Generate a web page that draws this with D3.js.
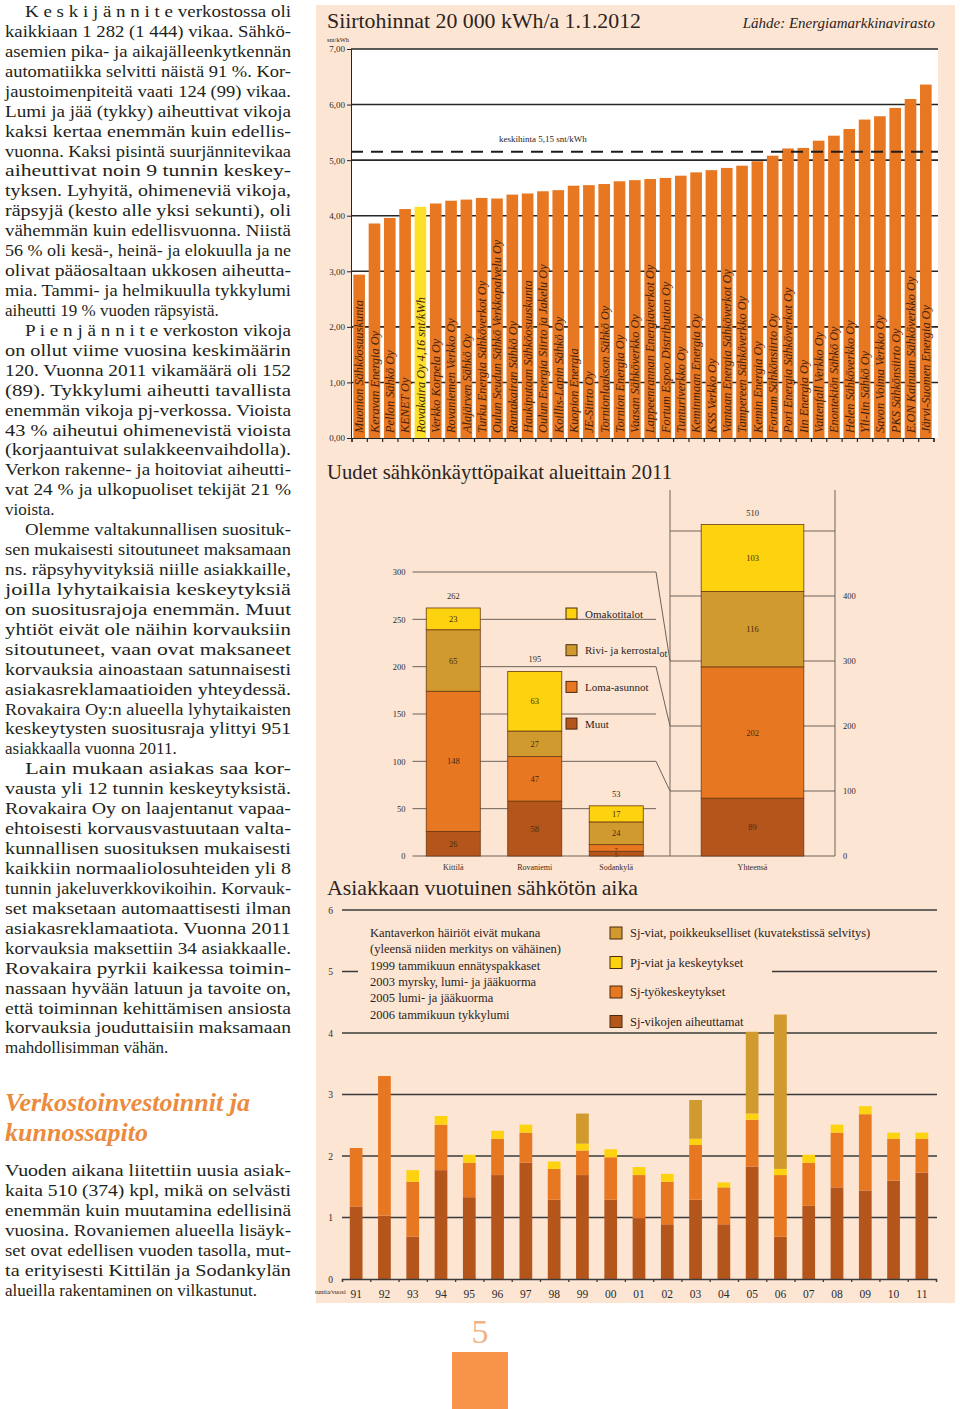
<!DOCTYPE html>
<html lang="fi">
<head>
<meta charset="UTF-8">
<title>Siirtohinnat, liittymät ja keskeytykset</title>
<script src="https://d3js.org/d3.v7.min.js"></script>
<style>
  body { margin: 0; background: #fff; }
  svg { display: block; font-family: "Liberation Serif", "Times New Roman", serif; }
  .ax text { font-family: "Liberation Serif", serif; fill: #2b2b2b; }
</style>
</head>
<body>
<svg id="page" width="960" height="1409"></svg>
<script>
// ---------- data: transfer prices 20 000 kWh/a, 1.1.2012 (snt/kWh) ----------
const companies = [
  "Muonion Sähköosuuskunta", "Keravan Energia Oy", "Pellon Sähkö Oy", "KENET Oy",
  "Rovakaira Oy 4,16 snt/kWh", "Verkko Korpela Oy", "Rovaniemen Verkko Oy", "Alajärven Sähkö Oy",
  "Turku Energia Sähköverkot Oy", "Oulun Seudun Sähkö Verkkopalvelu Oy", "Rantakairan Sähkö Oy",
  "Haukiputaan Sähköosuuskunta", "Oulun Energia Siirto ja Jakelu Oy", "Koillis-Lapin Sähkö Oy",
  "Kuopion Energia", "JE-Siirto Oy", "Tornionlaakson Sähkö Oy", "Tornion Energia Oy",
  "Vaasan Sähköverkko Oy", "Lappeenrannan Energiaverkot Oy", "Fortum Espoo Distribution Oy",
  "Tunturiverkko Oy", "Keminmaan Energia Oy", "KSS Verkko Oy", "Vantaan Energia Sähköverkot Oy",
  "Tampereen Sähköverkko Oy", "Kemin Energia Oy", "Fortum Sähkönsiirto Oy", "Pori Energia Sähköverkot Oy",
  "Iin Energia Oy", "Vattenfall Verkko Oy", "Enontekiön Sähkö Oy", "Helen Sähköverkko Oy",
  "Yli-Iin Sähkö Oy", "Savon Voima Verkko Oy", "PKS Sähkönsiirto Oy", "E.ON Kainuun Sähköverkko Oy",
  "Järvi-Suomen Energia Oy"
];
const prices = [
  2.94, 3.86, 3.96, 4.12, 4.16, 4.22, 4.27, 4.29, 4.32, 4.31, 4.38, 4.40, 4.44, 4.46,
  4.54, 4.55, 4.57, 4.62, 4.64, 4.66, 4.68, 4.72, 4.78, 4.82, 4.86, 4.90, 4.98, 5.08,
  5.21, 5.22, 5.35, 5.44, 5.56, 5.73, 5.79, 5.94, 6.10, 6.36
];
const ownCompany = "Rovakaira Oy 4,16 snt/kWh";
const avgPrice = 5.15;
const priceTicks = [0, 1, 2, 3, 4, 5, 6, 7];

// ---------- data: new connections by area 2011 ----------
const regions = ["Kittilä", "Rovaniemi", "Sodankylä"];
const houseTypes = ["Muut", "Loma-asunnot", "Rivi- ja kerrostalot", "Omakotitalot"];
const muut = [26, 58, 5];
const lomaAsunnot = [148, 47, 7];
const riviJaKerros = [65, 27, 24];
const omakotitalot = [23, 63, 17];
const totalByType = [89, 202, 116, 103];   // Yhteensä, same order as houseTypes
const leftTicks = [0, 50, 100, 150, 200, 250, 300];
const rightTicks = [0, 100, 200, 300, 400];
const rightGrid = [0, 100, 200, 300, 400, 500];

// ---------- data: customer's yearly outage time (h/a) ----------
const years = ["91","92","93","94","95","96","97","98","99","00","01","02","03","04","05","06","07","08","09","10","11"];
const sjFaults      = [1.18, 1.03, 0.69, 1.77, 1.33, 1.69, 1.89, 1.29, 1.69, 1.29, 0.99, 0.89, 1.29, 0.89, 1.83, 0.69, 1.19, 1.49, 1.44, 1.60, 1.73];
const sjWork        = [0.95, 2.27, 0.89, 0.74, 0.56, 0.59, 0.49, 0.50, 0.40, 0.69, 0.70, 0.69, 0.89, 0.60, 0.76, 1.00, 0.70, 0.89, 1.24, 0.68, 0.55];
const pjFaults      = [0.00, 0.00, 0.19, 0.14, 0.13, 0.13, 0.13, 0.12, 0.11, 0.13, 0.13, 0.13, 0.10, 0.08, 0.10, 0.10, 0.13, 0.13, 0.13, 0.10, 0.10];
const sjExceptional = [0, 0, 0, 0, 0, 0, 0, 0, 0.49, 0, 0, 0, 0.63, 0, 1.33, 2.51, 0, 0, 0, 0, 0];
const outageNotes = [
  "Kantaverkon häiriöt eivät mukana",
  "(yleensä niiden merkitys on vähäinen)",
  "1999 tammikuun ennätyspakkaset",
  "2003 myrsky, lumi- ja jääkuorma",
  "2005 lumi- ja jääkuorma",
  "2006 tammikuun tykkylumi"
];
const outageLegend = [
  ["Sj-viat, poikkeukselliset (kuvatekstissä selvitys)", "gold"],
  ["Pj-viat ja keskeytykset", "yellow"],
  ["Sj-työkeskeytykset", "orange"],
  ["Sj-vikojen aiheuttamat", "brown"]
];

// ---------- body text ----------
const bodyParagraphs = [
  ["K e s k i j ä n n i t e verkostossa oli", "kaikkiaan 1 282 (1 444) vikaa. Sähkö-",
   "asemien pika- ja aikajälleenkytkennän", "automatiikka selvitti näistä 91 %. Kor-",
   "jaustoimenpiteitä vaati 124 (99) vikaa.", "Lumi ja jää (tykky) aiheuttivat vikoja",
   "kaksi kertaa enemmän kuin edellis-", "vuonna. Kaksi pisintä suurjännitevikaa",
   "aiheuttivat noin 9 tunnin keskey-", "tyksen. Lyhyitä, ohimeneviä vikoja,",
   "räpsyjä (kesto alle yksi sekunti), oli", "vähemmän kuin edellisvuonna. Niistä",
   "56 % oli kesä-, heinä- ja elokuulla ja ne", "olivat pääosaltaan ukkosen aiheutta-",
   "mia. Tammi- ja helmikuulla tykkylumi", "aiheutti 19 % vuoden räpsyistä."],
  ["P i e n j ä n n i t e verkoston vikoja", "on ollut viime vuosina keskimäärin",
   "120. Vuonna 2011 vikamäärä oli 152", "(89). Tykkylumi aiheutti tavallista",
   "enemmän vikoja pj-verkossa. Vioista", "43 % aiheutui ohimenevistä vioista",
   "(korjaantuivat sulakkeenvaihdolla).", "Verkon rakenne- ja hoitoviat aiheutti-",
   "vat 24 % ja ulkopuoliset tekijät 21 %", "vioista."],
  ["Olemme valtakunnallisen suosituk-", "sen mukaisesti sitoutuneet maksamaan",
   "ns. räpsyhyvityksiä niille asiakkaille,", "joilla lyhytaikaisia keskeytyksiä",
   "on suositusrajoja enemmän. Muut", "yhtiöt eivät ole näihin korvauksiin",
   "sitoutuneet, vaan ovat maksaneet", "korvauksia ainoastaan satunnaisesti",
   "asiakasreklamaatioiden yhteydessä.", "Rovakaira Oy:n alueella lyhytaikaisten",
   "keskeytysten suositusraja ylittyi 951", "asiakkaalla vuonna 2011."],
  ["Lain mukaan asiakas saa kor-", "vausta yli 12 tunnin keskeytyksistä.",
   "Rovakaira Oy on laajentanut vapaa-", "ehtoisesti korvausvastuutaan valta-",
   "kunnallisen suosituksen mukaisesti", "kaikkiin normaaliolosuhteiden yli 8",
   "tunnin jakeluverkkovikoihin. Korvauk-", "set maksetaan automaattisesti ilman",
   "asiakasreklamaatiota. Vuonna 2011", "korvauksia maksettiin 34 asiakkaalle.",
   "Rovakaira pyrkii kaikessa toimin-", "nassaan hyvään latuun ja tavoite on,",
   "että toiminnan kehittämisen ansiosta", "korvauksia jouduttaisiin maksamaan",
   "mahdollisimman vähän."]
];
const headingLines = ["Verkostoinvestoinnit ja", "kunnossapito"];
const investLines = [
  "Vuoden aikana liitettiin uusia asiak-", "kaita 510 (374) kpl, mikä on selvästi",
  "enemmän kuin muutamina edellisinä", "vuosina. Rovaniemen alueella lisäyk-",
  "set ovat edellisen vuoden tasolla, mut-", "ta erityisesti Kittilän ja Sodankylän",
  "alueilla rakentaminen on vilkastunut."
];

const col = { yellow: "#fdd20e", gold: "#d09a2e", orange: "#e87722", brown: "#b4561b" };
const ink = "#2b2420";
const peach = "#fde5d4";

const svg = d3.select("#page");

// ================= left text column =================
const textG = svg.append("g").attr("fill", "#231f20").attr("font-size", 17);
let row = 0;
bodyParagraphs.forEach(par => {
  par.forEach((line, j) => {
    const x = j === 0 ? 25 : 5;
    const t = textG.append("text").attr("x", x).attr("y", 17 + row * 19.93).text(line);
    if (j < par.length - 1) t.attr("textLength", 291 - x).attr("lengthAdjust", "spacingAndGlyphs");
    row++;
  });
});
headingLines.forEach((line, j) => {
  svg.append("text").attr("x", 5).attr("y", 1111 + j * 30)
    .attr("font-size", 26).attr("font-weight", "bold").attr("font-style", "italic")
    .attr("fill", "#eb8b3e").text(line);
});
investLines.forEach((line, j) => {
  const t = textG.append("text").attr("x", 5).attr("y", 1176 + j * 20).text(line);
  if (j < investLines.length - 1) t.attr("textLength", 286).attr("lengthAdjust", "spacingAndGlyphs");
});

// page number
svg.append("text").attr("x", 480).attr("y", 1343).attr("text-anchor", "middle")
  .attr("font-size", 34).attr("fill", "#f2b184").text("5");
svg.append("rect").attr("x", 452).attr("y", 1352).attr("width", 56).attr("height", 57).attr("fill", "#f7944a");

// ================= panel =================
svg.append("rect").attr("x", 316).attr("y", 5).attr("width", 639).attr("height", 1298).attr("fill", peach);

function title(g, text, y, len) {
  g.append("text").attr("x", 327).attr("y", y).attr("font-size", 21).attr("fill", ink)
    .attr("textLength", len).attr("lengthAdjust", "spacingAndGlyphs").text(text);
}

// ================= chart 1: transfer prices =================
const g1 = svg.append("g");
const x1 = d3.scaleBand().domain(companies).range([351.5, 933.5]).paddingInner(0.24).paddingOuter(0.12);
const y1 = d3.scaleLinear().domain([0, 7]).range([438, 49]);
const xIdx = d3.scaleLinear().domain([0, companies.length]).range([351.5, 933.5]);

title(g1, "Siirtohinnat 20 000 kWh/a 1.1.2012", 28, 314);
g1.append("text").attr("x", 935).attr("y", 28).attr("text-anchor", "end").attr("font-size", 15)
  .attr("font-style", "italic").attr("fill", ink).text("Lähde: Energiamarkkinavirasto");
g1.append("text").attr("x", 327).attr("y", 42).attr("font-size", 6.5).attr("fill", ink).text("snt/kWh");

g1.append("rect").attr("x", 351).attr("y", y1(7)).attr("width", 587).attr("height", y1(0) - y1(7)).attr("fill", "#fff");

g1.append("g").selectAll("line").data(priceTicks.slice(1)).join("line")
  .attr("x1", 351).attr("x2", 938).attr("y1", d => y1(d)).attr("y2", d => y1(d))
  .attr("stroke", "#262626").attr("stroke-width", 1.6);

g1.append("g").selectAll("rect").data(companies).join("rect")
  .attr("x", d => x1(d)).attr("width", x1.bandwidth())
  .attr("y", (d, i) => y1(prices[i])).attr("height", (d, i) => y1(0) - y1(prices[i]))
  .attr("fill", d => d === ownCompany ? "#fde02a" : col.orange);

g1.append("g").selectAll("text").data(companies).join("text")
  .attr("transform", d => `translate(${x1(d) + x1.bandwidth() / 2 + 4.3},433) rotate(-90)`)
  .attr("font-size", 12.3).attr("font-style", "italic").attr("fill", "#3f1f0c")
  .text(d => d);

// average line
g1.append("line").attr("x1", 351).attr("x2", 938).attr("y1", y1(avgPrice)).attr("y2", y1(avgPrice))
  .attr("stroke", "#1d1d1d").attr("stroke-width", 2).attr("stroke-dasharray", "12,8");
g1.append("text").attr("x", 499).attr("y", y1(avgPrice) - 10).attr("font-size", 9).attr("fill", ink)
  .text("keskihinta 5,15 snt/kWh");

const ay1 = g1.append("g").attr("class", "ax").attr("transform", "translate(351,0)")
  .call(d3.axisLeft(y1).tickValues(priceTicks).tickSize(4).tickPadding(2)
    .tickFormat(d => d3.format(".2f")(d).replace(".", ",")));
ay1.selectAll("text").attr("font-size", 9);
ay1.selectAll("line,path").attr("stroke", "#262626");

const ax1 = g1.append("g").attr("class", "ax").attr("transform", `translate(0,${y1(0)})`)
  .call(d3.axisBottom(xIdx).tickValues(d3.range(companies.length + 1)).tickSize(4).tickFormat(""));
ax1.selectAll("line,path").attr("stroke", "#262626").attr("stroke-width", 1.2);

// ================= chart 2: new connections =================
const g2 = svg.append("g");
title(g2, "Uudet sähkönkäyttöpaikat alueittain 2011", 479, 345);

const x2 = d3.scaleBand().domain(regions).range([412.5, 657]).paddingInner(0.337).paddingOuter(0.1685);
const y2 = d3.scaleLinear().domain([0, 300]).range([856, 572]);
const x3 = d3.scaleBand().domain(["Yhteensä"]).range([670, 835]).padding(0.233);
const y3 = d3.scaleLinear().domain([0, 500]).range([856, 531]);
const gridCol = "#6e6258";

// left grid lines, 0/100/200/300 connect diagonally into the total scale
g2.append("g").selectAll("path").data(leftTicks).join("path")
  .attr("d", d => rightTicks.includes(d) && d !== 400
    ? `M412.5,${y2(d)}H656L670,${y3(d)}` : `M412.5,${y2(d)}H656`)
  .attr("fill", "none").attr("stroke", gridCol).attr("stroke-width", 1);
g2.append("g").selectAll("line").data(rightGrid).join("line")
  .attr("x1", 670).attr("x2", 835).attr("y1", d => y3(d)).attr("y2", d => y3(d))
  .attr("stroke", gridCol).attr("stroke-width", 1);
g2.append("g").selectAll("line").data([670, 835]).join("line")
  .attr("x1", d => d).attr("x2", d => d).attr("y1", 490).attr("y2", 856)
  .attr("stroke", gridCol).attr("stroke-width", 1);

const typeColor = d3.scaleOrdinal().domain(houseTypes).range([col.brown, col.orange, col.gold, col.yellow]);
const regionRows = regions.map((r, i) => ({
  name: r, "Muut": muut[i], "Loma-asunnot": lomaAsunnot[i],
  "Rivi- ja kerrostalot": riviJaKerros[i], "Omakotitalot": omakotitalot[i]
}));
const totalRow = [{ name: "Yhteensä" }];
houseTypes.forEach((k, i) => totalRow[0][k] = totalByType[i]);
const stack2 = d3.stack().keys(houseTypes);

function drawStack(g, rows, xs, ys) {
  const series = stack2(rows);
  g.append("g").selectAll("g").data(series).join("g")
    .attr("fill", s => typeColor(s.key))
    .selectAll("rect").data(s => s).join("rect")
    .attr("x", p => xs(p.data.name)).attr("width", xs.bandwidth())
    .attr("y", p => ys(p[1])).attr("height", p => ys(p[0]) - ys(p[1]))
    .attr("stroke", "#6b3a12").attr("stroke-width", 0.8);
  // segment labels; very thin segments get a small label sitting on their bottom edge
  g.append("g").selectAll("g").data(series).join("g")
    .selectAll("text").data(s => s).join("text")
    .each(function (p) {
      const h = ys(p[0]) - ys(p[1]);
      d3.select(this)
        .attr("x", xs(p.data.name) + xs.bandwidth() / 2)
        .attr("y", h < 9 ? ys(p[0]) + 1.2 : (ys(p[0]) + ys(p[1])) / 2 + 3)
        .attr("font-size", h < 9 ? 5.8 : 8.5);
    })
    .attr("text-anchor", "middle").attr("fill", "#4a2a10")
    .text(p => p[1] - p[0]);
  g.append("g").selectAll("text").data(rows).join("text")
    .attr("x", r => xs(r.name) + xs.bandwidth() / 2)
    .attr("y", r => ys(d3.sum(houseTypes, k => r[k])) - 9)
    .attr("text-anchor", "middle").attr("font-size", 8.5).attr("fill", "#3a2a1a")
    .text(r => d3.sum(houseTypes, k => r[k]));
  g.append("g").selectAll("text").data(rows).join("text")
    .attr("x", r => xs(r.name) + xs.bandwidth() / 2).attr("y", 870)
    .attr("text-anchor", "middle").attr("font-size", 8).attr("fill", "#3a2a1a")
    .text(r => r.name);
}
drawStack(g2, regionRows, x2, y2);
drawStack(g2, totalRow, x3, y3);

const ay2 = g2.append("g").attr("class", "ax").attr("transform", "translate(412.5,0)")
  .call(d3.axisLeft(y2).tickValues(leftTicks).tickSize(0).tickPadding(7));
ay2.select(".domain").remove();
ay2.selectAll("text").attr("font-size", 8.5);
const ay3 = g2.append("g").attr("class", "ax").attr("transform", "translate(835,0)")
  .call(d3.axisRight(y3).tickValues(rightTicks).tickSize(0).tickPadding(8));
ay3.select(".domain").remove();
ay3.selectAll("text").attr("font-size", 8.5);

// legend
const legend2 = g2.append("g").selectAll("g").data(houseTypes.slice().reverse()).join("g")
  .attr("transform", (d, i) => `translate(566,${608 + i * 36.7})`);
legend2.append("rect").attr("width", 11).attr("height", 11)
  .attr("fill", d => typeColor(d)).attr("stroke", "#4a2a10").attr("stroke-width", 1);
legend2.append("text").attr("x", 19).attr("y", 9.5).attr("font-size", 11).attr("fill", ink)
  .each(function (d) {
    const t = d3.select(this);
    if (d === "Rivi- ja kerrostalot") {
      t.text("Rivi- ja kerrostal");
      t.append("tspan").attr("dy", 3).attr("font-size", 10).text("ot");
    } else t.text(d);
  });

// ================= chart 3: outage time =================
const g3 = svg.append("g");
title(g3, "Asiakkaan vuotuinen sähkötön aika", 895, 311);

const x4 = d3.scaleBand().domain(years).range([342, 936]).paddingInner(0.55).paddingOuter(0.275);
const y4 = d3.scaleLinear().domain([0, 6]).range([1279, 910]);
const yearIdx = d3.scaleLinear().domain([0, years.length]).range([342, 936]);

g3.append("g").selectAll("line").data([1, 2, 3, 4, 5, 6]).join("line")
  .attr("x1", 342).attr("x2", 937).attr("y1", d => y4(d)).attr("y2", d => y4(d))
  .attr("stroke", "#3a3a3a").attr("stroke-width", 1.4);

const outKeys = ["brown", "orange", "yellow", "gold"];
const outRows = years.map((y, i) => ({
  year: y, brown: sjFaults[i], orange: sjWork[i], yellow: pjFaults[i], gold: sjExceptional[i]
}));
g3.append("g").selectAll("g").data(d3.stack().keys(outKeys)(outRows)).join("g")
  .attr("fill", s => col[s.key])
  .selectAll("rect").data(s => s.filter(p => p[1] > p[0])).join("rect")
  .attr("x", p => x4(p.data.year)).attr("width", x4.bandwidth())
  .attr("y", p => y4(p[1])).attr("height", p => y4(p[0]) - y4(p[1]));

// note box (hides the grid line behind it)
g3.append("rect").attr("x", 358).attr("y", 916).attr("width", 414).attr("height", 110).attr("fill", peach);
g3.append("g").selectAll("text").data(outageNotes).join("text")
  .attr("x", 370).attr("y", (d, i) => 937 + i * 16.3)
  .attr("font-size", 12.5).attr("fill", ink).text(d => d);
const legend3 = g3.append("g").selectAll("g").data(outageLegend).join("g")
  .attr("transform", (d, i) => `translate(610,${927 + i * 29.5})`);
legend3.append("rect").attr("width", 12).attr("height", 12)
  .attr("fill", d => col[d[1]]).attr("stroke", "#4a2a10").attr("stroke-width", 1);
legend3.append("text").attr("x", 20).attr("y", 10).attr("font-size", 12.5).attr("fill", ink).text(d => d[0]);

const ay4 = g3.append("g").attr("class", "ax").attr("transform", "translate(342,0)")
  .call(d3.axisLeft(y4).ticks(6).tickSize(0).tickPadding(9));
ay4.select(".domain").remove();
ay4.selectAll("text").attr("font-size", 9.5);

const ax4 = g3.append("g").attr("class", "ax").attr("transform", `translate(0,${y4(0)})`)
  .call(d3.axisBottom(yearIdx).tickValues(d3.range(years.length + 1)).tickSize(3).tickFormat(""));
ax4.selectAll("line,path").attr("stroke", "#3a3a3a").attr("stroke-width", 1.3);
const ax4b = g3.append("g").attr("class", "ax").attr("transform", `translate(0,${y4(0)})`)
  .call(d3.axisBottom(x4).tickSize(0).tickPadding(11));
ax4b.select(".domain").remove();
ax4b.selectAll("text").attr("font-size", 11.5);
g3.append("text").attr("x", 315).attr("y", 1294).attr("font-size", 6.5).attr("fill", ink).text("tuntia/vuosi");
</script>
</body>
</html>
